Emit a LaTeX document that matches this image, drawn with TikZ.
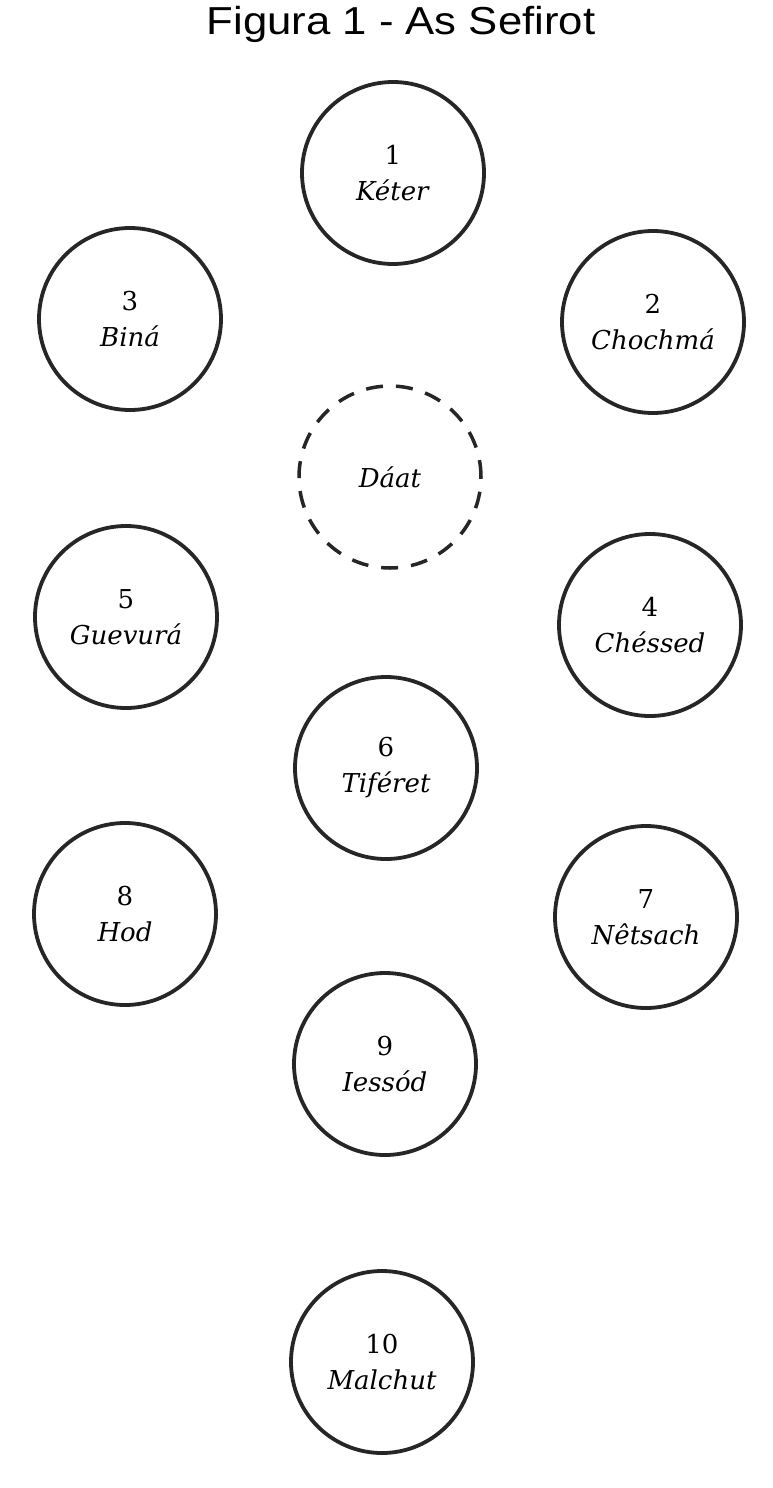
\documentclass[tikz,border=0pt]{standalone}
\usepackage{fontspec}
\newfontfamily\titlefont{Liberation Sans}
\newfontfamily\labelfont{DejaVu Serif}
\begin{document}
\begin{tikzpicture}[x=1pt,y=-1pt,
  sefira/.style={circle, draw=black!85, line width=3.8pt, minimum size=182pt, inner sep=0pt,
    align=center, font=\labelfont\fontsize{26}{36}\selectfont},
  daat/.style={sefira, dash pattern=on 17pt off 13pt, line width=3.5pt}]
\useasboundingbox (0,0) rectangle (773,1488);
\fill[white] (0,0) rectangle (773,1488);
\node[font=\titlefont\fontsize{39}{44}\selectfont, anchor=base] (title) at (401,35) {\scalebox{1.12}[1]{Figura 1 - As Sefirot}};
\node[sefira] (keter)   at (393,173)  {1\\\textit{Kéter}};
\node[sefira] (bina)    at (130,319)  {3\\\textit{Biná}};
\node[sefira] (chochma) at (653,322)  {2\\\textit{Chochmá}};
\node[daat]   (daat)    at (390,477)  {\textit{Dáat}};
\node[sefira] (guevura) at (126,617)  {5\\\textit{Guevurá}};
\node[sefira] (chessed) at (650,625)  {4\\\textit{Chéssed}};
\node[sefira] (tiferet) at (386,768)  {6\\\textit{Tiféret}};
\node[sefira] (hod)     at (125,914)  {8\\\textit{Hod}};
\node[sefira] (netsach) at (646,917)  {7\\\textit{Nêtsach}};
\node[sefira] (iessod)  at (385,1064) {9\\\textit{Iessód}};
\node[sefira] (malchut) at (382,1362) {10\\\textit{Malchut}};
\end{tikzpicture}
\end{document}
